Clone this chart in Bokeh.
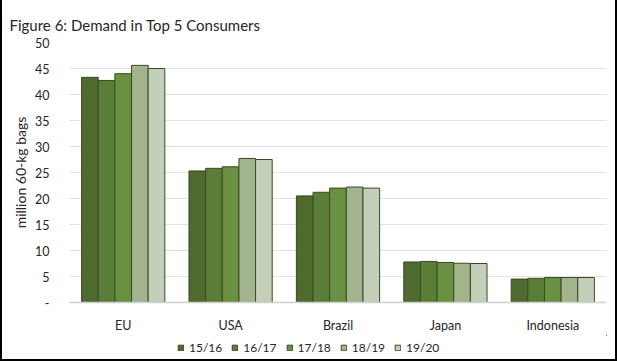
from bokeh.plotting import figure
from bokeh.layouts import column
from bokeh.models import (ColumnDataSource, FactorRange, Range1d, Legend, LegendItem, FixedTicker,
                          CustomJSTickFormatter)
from bokeh.transform import dodge
from bokeh.embed import file_html
from bokeh.resources import INLINE

countries = ["EU", "USA", "Brazil", "Japan", "Indonesia"]
seasons = ["15/16", "16/17", "17/18", "18/19", "19/20"]
v1516 = [43.3, 25.3, 20.5, 7.8, 4.5]
v1617 = [42.7, 25.8, 21.2, 7.9, 4.65]
v1718 = [44.0, 26.1, 22.0, 7.7, 4.8]
v1819 = [45.6, 27.7, 22.2, 7.55, 4.8]
v1920 = [45.0, 27.5, 22.0, 7.5, 4.8]
colors = ["#4e6a2d", "#5a7d37", "#6a9141", "#a1b48d", "#c3cfb9"]
y_ticks = [0, 5, 10, 15, 20, 25, 30, 35, 40, 45, 50]

FONT = "Lato"
TXT = "#262626"
EDGE = "#3a4a22"

src = ColumnDataSource(dict(x=countries, s0=v1516, s1=v1617, s2=v1718, s3=v1819, s4=v1920))

p = figure(width=617, height=335, x_range=FactorRange(*countries, range_padding=0),
           y_range=Range1d(0, 50), output_backend="svg", toolbar_location=None,
           min_border_left=67, min_border_right=13, min_border_top=42, min_border_bottom=33)
p.outline_line_color = None
p.styles = {"border-left": "2px solid #000", "border-right": "2px solid #000",
            "box-sizing": "border-box"}

w = 0.155
keys = ["s0", "s1", "s2", "s3", "s4"]
for i, key in enumerate(keys):
    p.vbar(x=dodge("x", (i - 2) * w, range=p.x_range), top=key, width=w, source=src,
           fill_color=colors[i], line_color=EDGE, line_width=1)

p.xgrid.grid_line_color = None
p.ygrid.grid_line_color = "#c4c4c4"
p.ygrid.grid_line_dash = "1 1"
p.ygrid.ticker = FixedTicker(ticks=y_ticks[1:])

p.yaxis.ticker = FixedTicker(ticks=y_ticks)
p.yaxis.formatter = CustomJSTickFormatter(code="return tick == 0 ? '-' : tick.toString();")
p.yaxis.axis_line_color = None
p.yaxis.major_tick_line_color = None
p.yaxis.minor_tick_line_color = None
p.yaxis.major_label_text_font = FONT
p.yaxis.major_label_text_font_size = "12.5px"
p.yaxis.major_label_text_color = TXT
p.yaxis.major_label_standoff = 14
p.yaxis.axis_label = "million 60-kg bags"
p.yaxis.axis_label_text_font = FONT
p.yaxis.axis_label_text_font_size = "14px"
p.yaxis.axis_label_text_font_style = "normal"
p.yaxis.axis_label_text_color = TXT
p.yaxis.axis_label_standoff = 3

p.xaxis.axis_line_color = "#d0d0d0"
p.xaxis.axis_line_width = 1.5
p.xaxis.major_tick_line_color = None
p.xaxis.minor_tick_line_color = None
p.xaxis.major_label_text_font = FONT
p.xaxis.major_label_text_font_size = "12.5px"
p.xaxis.major_label_text_color = TXT
p.xaxis.major_label_standoff = 9

p.title.text = "Figure 6: Demand in Top 5 Consumers"
p.title.text_font = FONT
p.title.text_font_size = "15px"
p.title.text_font_style = "normal"
p.title.text_color = TXT
p.title.offset = -60
p.title.standoff = 18

# legend strip (its frame aligns with the main frame)
lg = figure(width=617, height=26, x_range=Range1d(0, 1), y_range=Range1d(0, 1),
            output_backend="svg", toolbar_location=None,
            min_border_left=0, min_border_right=0, min_border_top=0, min_border_bottom=0)
lg.axis.visible = False
lg.grid.visible = False
lg.outline_line_color = None
lg.styles = {"border-left": "2px solid #000", "border-right": "2px solid #000",
             "border-bottom": "2px solid #000", "box-sizing": "border-box"}
hidden = ColumnDataSource(dict(x=[5.0], top=[5.0], bottom=[4.0]))
items = []
for i, s in enumerate(seasons):
    r = lg.vbar(x="x", top="top", bottom="bottom", width=0.1, source=hidden,
                fill_color=colors[i], line_color=EDGE, line_width=1)
    items.append(LegendItem(label=s, renderers=[r]))
legend = Legend(items=items, orientation="horizontal", location=(108, 6),
                glyph_width=7, glyph_height=7, label_standoff=5, spacing=9,
                label_text_font=FONT, label_text_font_size="12px", label_text_color=TXT,
                background_fill_alpha=0, border_line_color=None, padding=0, margin=0)
lg.add_layout(legend, "center")

layout = column(p, lg, spacing=0)
html = file_html(layout, INLINE)
html = html.replace("<head>", "<head><style>body{margin:0 !important;}</style>", 1)
open("out.html", "w").write(html)
